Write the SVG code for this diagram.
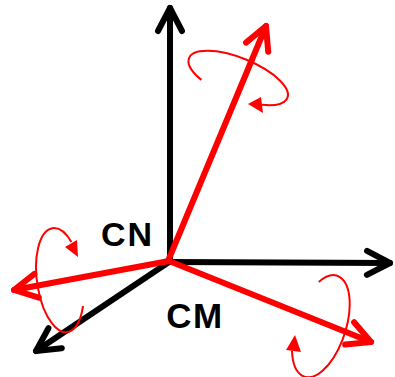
<svg xmlns="http://www.w3.org/2000/svg" width="395" height="377" viewBox="0 0 395 377">
<style>
.ax{fill:none;stroke:#000;stroke-width:6;stroke-linecap:round}
.rd{fill:none;stroke:#f00;stroke-width:6;stroke-linecap:round}
.rot{fill:none;stroke:#f00;stroke-width:2}
.rh{fill:#f00;stroke:none}
.lbl{font-family:"Liberation Sans",Arial,sans-serif;font-weight:bold;fill:#000}
</style>
<defs>
<marker id="chevK" markerUnits="userSpaceOnUse" viewBox="-30 -16 34 32" refX="0" refY="0" markerWidth="34" markerHeight="32" orient="auto" overflow="visible">
<path d="M-23,-12 L0,0 L-23,12" fill="none" stroke="#000" stroke-width="6" stroke-linecap="round" stroke-linejoin="round"/>
</marker>
<marker id="chevR" markerUnits="userSpaceOnUse" viewBox="-30 -16 34 32" refX="0" refY="0" markerWidth="34" markerHeight="32" orient="auto" overflow="visible">
<path d="M-23,-12 L0,0 L-23,12" fill="none" stroke="#f00" stroke-width="6" stroke-linecap="round" stroke-linejoin="round"/>
</marker>
</defs>
<g id="axes">
<line id="axis-up" class="ax" x1="170" y1="262" x2="170" y2="8" marker-end="url(#chevK)"/>
<line id="axis-right" class="ax" x1="169" y1="262" x2="390" y2="263" marker-end="url(#chevK)"/>
<line id="axis-diag" class="ax" x1="169" y1="262" x2="36" y2="351" marker-end="url(#chevK)"/>
</g>
<g id="red-arrows">
<line id="arrow-upright" class="rd" x1="168" y1="261" x2="266" y2="26" marker-end="url(#chevR)"/>
<line id="arrow-left" class="rd" x1="169" y1="261" x2="14" y2="290" marker-end="url(#chevR)"/>
<line id="arrow-downright" class="rd" x1="169" y1="261" x2="371" y2="342" marker-end="url(#chevR)"/>
</g>
<g id="rotation-top">
<path class="rot" d="M201.4,79.9 A53 20 22 1 1 262,104.8"/>
<polygon class="rh" points="248,104 261,97 263,113"/>
</g>
<g id="rotation-left">
<path class="rot" d="M71.4,241.9 A23 52.5 -8 1 0 83,306"/>
<polygon class="rh" points="78,257 65,247 77,240"/>
</g>
<g id="rotation-right">
<path class="rot" d="M318.8,282 A25 53 18 1 1 292,351"/>
<polygon class="rh" points="295,335 286,350 301,352"/>
</g>
<g id="labels">
<text id="label-cn" class="lbl" x="101" y="245.5" font-size="34" letter-spacing="2">CN</text>
<text id="label-cm" class="lbl" x="166.3" y="328" font-size="35" letter-spacing="1.5">CM</text>
</g>
</svg>
